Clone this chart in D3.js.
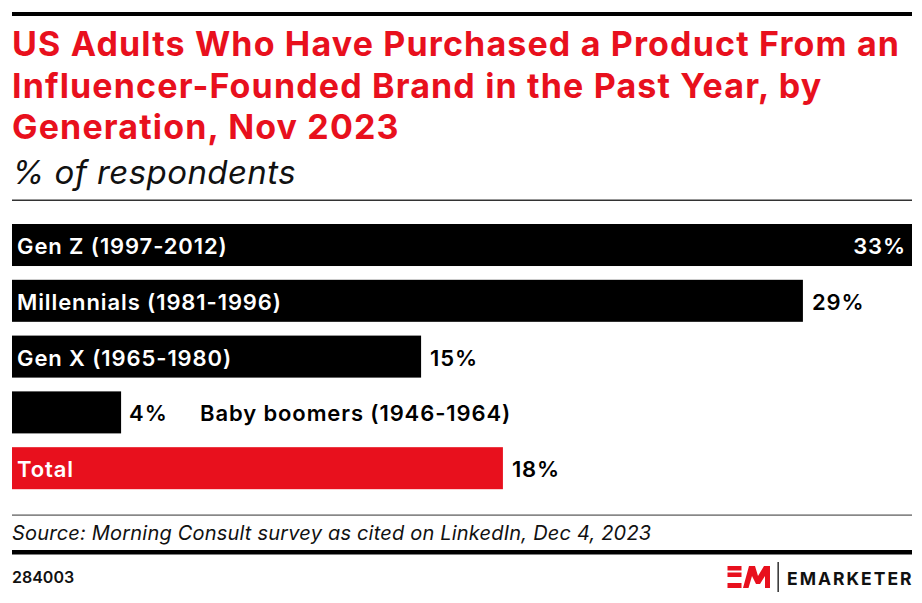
<!DOCTYPE html>
<html>
<head>
<meta charset="utf-8">
<script src="https://cdn.jsdelivr.net/npm/d3@7"></script>
<style>
  html, body { margin: 0; padding: 0; background: #fff; }
  svg { display: block; }
  text { font-family: Inter, "Noto Sans", sans-serif; }
</style>
</head>
<body>
<script>
const titleLines = [
  "US Adults Who Have Purchased a Product From an",
  "Influencer-Founded Brand in the Past Year, by",
  "Generation, Nov 2023"
];
const subtitle = "% of respondents";
const categories = ["Gen Z (1997-2012)", "Millennials (1981-1996)", "Gen X (1965-1980)", "Baby boomers (1946-1964)", "Total"];
const values = [33, 29, 15, 4, 18];
const highlight = [false, false, false, false, true];
const source = "Source: Morning Consult survey as cited on LinkedIn, Dec 4, 2023";
const chartId = "284003";

const W = 922, H = 603;
const red = "#e8101d";
const svg = d3.select("body").append("svg").attr("width", W).attr("height", H);

// top rule
svg.append("rect").attr("x", 12).attr("y", 12).attr("width", 900).attr("height", 4).attr("fill", "#000");

// title
const title = svg.append("text").attr("fill", red).attr("font-weight", 700).attr("font-size", 34)
  .attr("letter-spacing", "1.15");
titleLines.forEach((t, i) => {
  title.append("tspan").attr("x", 12).attr("y", 56 + i * 41.5).text(t);
});
svg.append("text").attr("x", 12).attr("y", 184).attr("font-size", 33).attr("font-style", "italic")
  .attr("letter-spacing", "0.4")
  .attr("font-weight", 400).attr("fill", "#111").text(subtitle);

svg.append("rect").attr("x", 12).attr("y", 199.5).attr("width", 900).attr("height", 1.5).attr("fill", "#333");

// chart
const x = d3.scaleLinear().domain([0, 33]).range([12, 912]);
const y = d3.scaleBand().domain(categories).range([224, 489.2]).paddingInner(0.247).paddingOuter(0);

const g = svg.append("g");
const rows = g.selectAll("g.row").data(categories.map((c, i) => ({ c, v: values[i], h: highlight[i] })))
  .join("g").attr("class", "row");

rows.append("rect")
  .attr("x", x(0)).attr("y", d => y(d.c))
  .attr("width", d => x(d.v) - x(0)).attr("height", y.bandwidth())
  .attr("fill", d => d.h ? red : "#000");

const labelSize = 22;
rows.each(function(d) {
  const row = d3.select(this);
  const cy = y(d.c) + y.bandwidth() / 2 + 1;
  const barEnd = x(d.v);
  const lab = row.append("text").attr("font-size", labelSize).attr("font-weight", 600)
    .attr("letter-spacing", "0.9")
    .attr("dominant-baseline", "central").attr("y", cy).text(d.c);
  const lw = lab.node().getComputedTextLength();
  const val = row.append("text").attr("font-size", labelSize).attr("font-weight", 600)
    .attr("letter-spacing", "0.9")
    .attr("dominant-baseline", "central").attr("y", cy).text(d.v + "%");
  const vw = val.node().getComputedTextLength();
  if (lw + 14 < barEnd - x(0)) {
    lab.attr("x", 17).attr("fill", "#fff");
    if (barEnd + 10 + vw > 912) {
      val.attr("x", barEnd - 6).attr("text-anchor", "end").attr("fill", "#fff");
    } else {
      val.attr("x", barEnd + 9).attr("fill", "#000");
    }
  } else {
    val.attr("x", barEnd + 8).attr("fill", "#000");
    lab.attr("x", 200).attr("fill", "#000");
  }
});

// footer
svg.append("rect").attr("x", 12).attr("y", 514.5).attr("width", 900).attr("height", 1.2).attr("fill", "#555");
svg.append("text").attr("x", 12).attr("y", 540).attr("font-size", 20).attr("font-style", "italic")
  .attr("letter-spacing", "0.2")
  .attr("fill", "#111").text(source);
svg.append("rect").attr("x", 12).attr("y", 550).attr("width", 900).attr("height", 4.5).attr("fill", "#000");
svg.append("text").attr("x", 12).attr("y", 583).attr("font-size", 16).attr("font-weight", 600)
  .attr("fill", "#111").text(chartId);

// logo
const logo = svg.append("g").attr("fill", red);
[[566, 4.5], [572.5, 4.5], [583, 5]].forEach(([yy, hh]) => {
  logo.append("rect").attr("x", 727.5).attr("y", yy).attr("width", 14).attr("height", hh);
});
logo.append("path").attr("d", "M743,588 L749,566 L755,566 L758,576 L764,566 L770,566 L770,588 L765,588 L765,576 L760,584 L756,584 L752,576 L748.5,588 Z");
svg.append("rect").attr("x", 777.5).attr("y", 562).attr("width", 1.3).attr("height", 30).attr("fill", "#111");
svg.append("text").attr("x", 787).attr("y", 585).attr("font-size", 17.5).attr("font-weight", 700)
  .attr("letter-spacing", "2").attr("fill", "#111").text("EMARKETER");
</script>
</body>
</html>
